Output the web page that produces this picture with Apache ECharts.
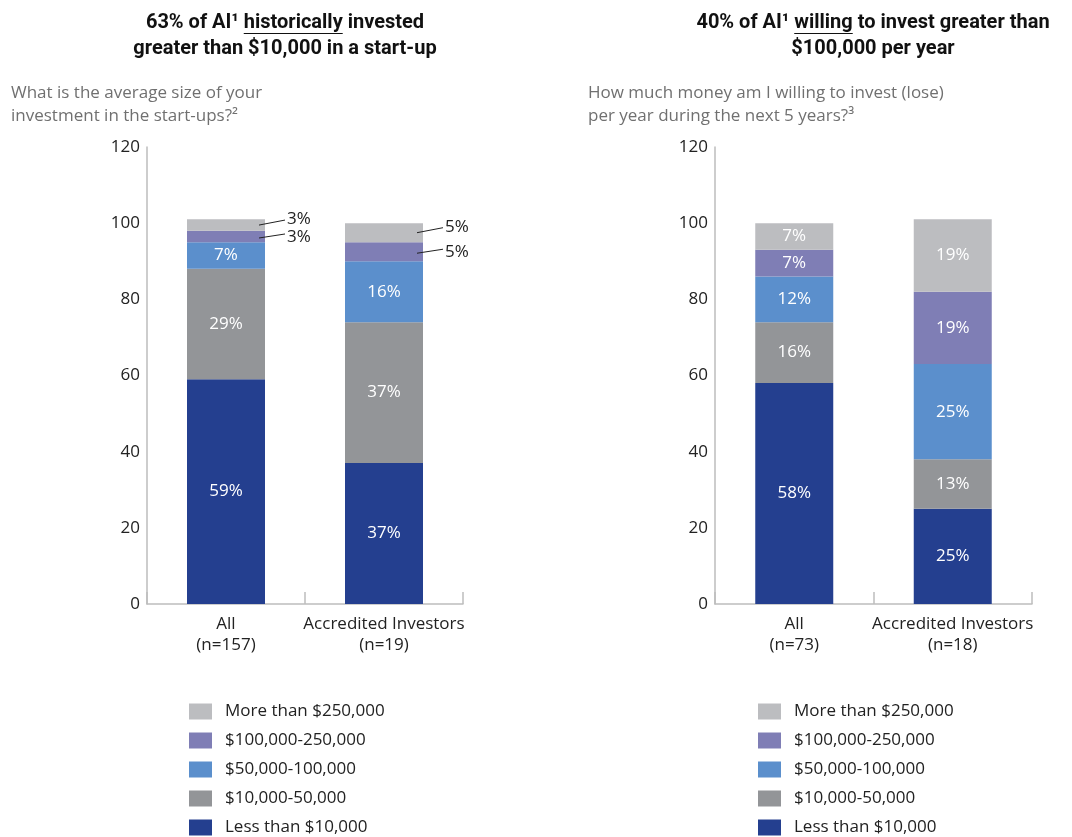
<!DOCTYPE html>
<html>
<head>
<meta charset="UTF-8">
<title>Angel investors</title>
<script src="https://cdn.jsdelivr.net/npm/echarts@6/dist/echarts.min.js"></script>
<style>
  html, body { margin: 0; padding: 0; background: #fff; }
  #main { width: 1072px; height: 837px; }
</style>
</head>
<body>
<div id="main"></div>
<script type="text/javascript">
// categories
var catLeft = ['All\n(n=157)', 'Accredited Investors\n(n=19)'];
var catRight = ['All\n(n=73)', 'Accredited Investors\n(n=18)'];
var bands = ['Less than $10,000', '$10,000-50,000', '$50,000-100,000', '$100,000-250,000', 'More than $250,000'];
var bandColors = ['#243f8f', '#939598', '#5b8fcc', '#7f7eb5', '#bcbdc0'];

// left chart: average size of investment (%)
var leftUnder10k = [59, 37];
var left10to50k = [29, 37];
var left50to100k = [7, 16];
var left100to250k = [3, 5];
var leftOver250k = [3, 5];

// right chart: willing to invest per year (%)
var rightUnder10k = [58, 25];
var right10to50k = [16, 13];
var right50to100k = [12, 25];
var right100to250k = [7, 19];
var rightOver250k = [7, 19];

var yTicks = [0, 20, 40, 60, 80, 100, 120];

var leftData = [leftUnder10k, left10to50k, left50to100k, left100to250k, leftOver250k];
var rightData = [rightUnder10k, right10to50k, right50to100k, right100to250k, rightOver250k];

var FONT = 'Open Sans';
var TITLE_FONT = 'Roboto';
var axisGrey = '#bdbdbd';
var BAR_W = 78;

var myChart = echarts.init(document.getElementById('main'));

function makeSeries(data, gridIdx, outsideFrom) {
    var out = [];
    for (var i = 0; i < bands.length; i++) {
        var outside = outsideFrom !== null && i >= outsideFrom;
        out.push({
            name: bands[i],
            type: 'bar',
            stack: 'g' + gridIdx,
            xAxisIndex: gridIdx,
            yAxisIndex: gridIdx,
            barWidth: BAR_W,
            data: data[i],
            itemStyle: { color: bandColors[i] },
            label: {
                show: !outside,
                position: 'inside',
                formatter: '{c}%',
                color: '#fff',
                fontFamily: FONT,
                fontSize: 17
            }
        });
    }
    return out;
}

// leader lines + labels for the thin segments (left chart), placed via the axes
function leaderData(data, fromBand) {
    var out = [];
    for (var c = 0; c < data[0].length; c++) {
        var base = 0;
        for (var b = 0; b < data.length; b++) {
            var v = data[b][c];
            if (b >= fromBand) out.push([c, base + v / 2, v, b]);
            base += v;
        }
    }
    return out;
}

function leaderRender(params, api) {
    var p = api.coord([api.value(0), api.value(1)]);
    var right = p[0] + BAR_W / 2;
    var isTop = api.value(3) === bands.length - 1;
    var y0 = p[1] + (isTop ? 0 : 1.5);
    var y1 = p[1] + (isTop ? -5 : -2.5);
    var yl = p[1] + (isTop ? -5.5 : 0.5);
    return {
        type: 'group',
        children: [
            { type: 'line', shape: { x1: right - 6, y1: y0, x2: right + 20, y2: y1 }, style: { stroke: '#222', lineWidth: 1 } },
            { type: 'text', x: right + 22, y: yl, style: { text: api.value(2) + '%', font: '17px ' + FONT, fill: '#222', verticalAlign: 'middle' } }
        ]
    };
}

function xAxis(gridIdx, cats) {
    return {
        type: 'category',
        gridIndex: gridIdx,
        data: cats,
        axisLine: { lineStyle: { color: axisGrey, width: 1.5 } },
        axisTick: { show: true, inside: true, length: 12, interval: 0, lineStyle: { color: axisGrey, width: 1.5 } },
        axisLabel: { color: '#222', fontFamily: FONT, fontSize: 17, lineHeight: 21, margin: 10, interval: 0 }
    };
}

function yAxis(gridIdx) {
    return {
        type: 'value',
        gridIndex: gridIdx,
        min: yTicks[0],
        max: yTicks[yTicks.length - 1],
        interval: 20,
        splitLine: { show: false },
        axisTick: { show: false },
        axisLine: { show: true, lineStyle: { color: axisGrey, width: 1.5 } },
        axisLabel: { color: '#222', fontFamily: FONT, fontSize: 17, margin: 7 }
    };
}

function legend(left) {
    return {
        orient: 'vertical',
        left: left,
        top: 703,
        padding: 0,
        height: 140,
        icon: 'rect',
        itemWidth: 23,
        itemHeight: 16,
        itemGap: 12,
        selectedMode: false,
        data: bands.slice().reverse(),
        textStyle: { color: '#222', fontFamily: FONT, fontSize: 17, padding: [0, 0, 0, 8] }
    };
}

// titles with one underlined word
var measureCtx = document.createElement('canvas').getContext('2d');
function titleGraphics(cx, line1, pre, word, line2) {
    var font = 'bold 20px ' + TITLE_FONT;
    measureCtx.font = font;
    var w1 = measureCtx.measureText(line1).width;
    var wPre = measureCtx.measureText(pre).width;
    var wWord = measureCtx.measureText(word).width;
    var x0 = cx - w1 / 2 + wPre;
    return [
        { type: 'text', x: cx, y: 23, style: { text: line1, font: font, fill: '#111', align: 'center', verticalAlign: 'middle' } },
        { type: 'text', x: cx, y: 49, style: { text: line2, font: font, fill: '#111', align: 'center', verticalAlign: 'middle' } },
        { type: 'line', shape: { x1: x0, y1: 33.5, x2: x0 + wWord, y2: 33.5 }, style: { stroke: '#111', lineWidth: 1.2 } }
    ];
}

function subtitle(x, text) {
    return { type: 'text', x: x, y: 82, style: { text: text, font: '17px ' + FONT, fill: '#707070', lineHeight: 23 } };
}

var graphics = []
    .concat(titleGraphics(285, '63% of AI\u00b9 historically invested', '63% of AI\u00b9 ', 'historically', 'greater than $10,000 in a start-up'))
    .concat(titleGraphics(873, '40% of AI\u00b9 willing to invest greater than', '40% of AI\u00b9 ', 'willing', '$100,000 per year'))
    .concat([
        subtitle(11, 'What is the average size of your\ninvestment in the start-ups?\u00b2'),
        subtitle(588, 'How much money am I willing to invest (lose)\nper year during the next 5 years?\u00b3')
    ]);

var option = {
    backgroundColor: '#FFFFFF',
    animation: false,
    textStyle: { fontFamily: FONT },
    grid: [
        { left: 147, top: 147, width: 316, height: 457 },
        { left: 715, top: 147, width: 317, height: 457 }
    ],
    xAxis: [xAxis(0, catLeft), xAxis(1, catRight)],
    yAxis: [yAxis(0), yAxis(1)],
    legend: [legend(189), legend(758)],
    graphic: graphics,
    series: makeSeries(leftData, 0, 3).concat(makeSeries(rightData, 1, null)).concat([{
        type: 'custom',
        name: 'leaders',
        xAxisIndex: 0,
        yAxisIndex: 0,
        silent: true,
        z: 5,
        data: leaderData(leftData, 3),
        renderItem: leaderRender
    }])
};

myChart.setOption(option);
</script>
</body>
</html>
